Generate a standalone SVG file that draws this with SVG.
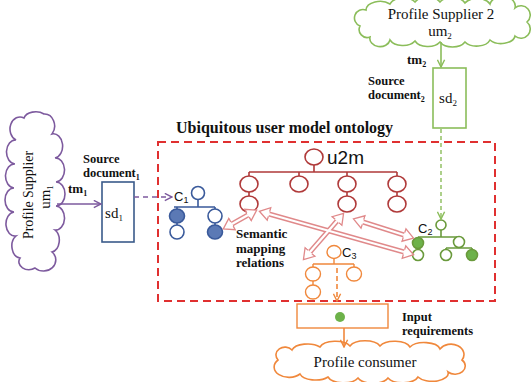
<svg xmlns="http://www.w3.org/2000/svg" width="531" height="382" viewBox="0 0 531 382">
<defs>
<style>
.serif{font-family:"Liberation Serif","Times New Roman",serif;fill:#111}
.b{font-weight:bold}
.sans{font-family:"Liberation Sans",Arial,sans-serif;fill:#111}
.red{fill:#fff;stroke:#b03a3a;stroke-width:1.6}
.redl{stroke:#b03a3a;stroke-width:1.6;fill:none}
.blue{fill:#fff;stroke:#3a5a9b;stroke-width:1.6}
.bluef{fill:#5b79b5;stroke:#3a5a9b;stroke-width:1.6}
.bluel{stroke:#3a5a9b;stroke-width:1.6;fill:none}
.grn{fill:#fff;stroke:#6a9a3c;stroke-width:1.6}
.grnf{fill:#6db24a;stroke:#6a9a3c;stroke-width:1.6}
.grnl{stroke:#6a9a3c;stroke-width:1.6;fill:none}
.org{fill:#fff;stroke:#f0883c;stroke-width:1.4}
.orgl{stroke:#f0883c;stroke-width:1.4;fill:none}
.pk{stroke:#e0898a;stroke-width:5;fill:none}
.pkw{stroke:#fff;stroke-width:2.2;fill:none}
</style>
<marker id="hp" viewBox="0 0 10 10" refX="9" refY="5" markerWidth="9" markerHeight="9" markerUnits="userSpaceOnUse" orient="auto"><path d="M1,1 L9,5 L1,9" fill="none" stroke="#7d5a9e" stroke-width="1.6"/></marker>
<marker id="hg" viewBox="0 0 10 10" refX="9" refY="5" markerWidth="9" markerHeight="9" markerUnits="userSpaceOnUse" orient="auto"><path d="M1,1 L9,5 L1,9" fill="none" stroke="#8bbd5a" stroke-width="1.6"/></marker>
<marker id="ho" viewBox="0 0 10 10" refX="9" refY="5" markerWidth="9" markerHeight="9" markerUnits="userSpaceOnUse" orient="auto"><path d="M1,1 L9,5 L1,9" fill="none" stroke="#f0883c" stroke-width="1.6"/></marker>
<marker id="hk" viewBox="-1 -8 13 16" refX="0" refY="0" markerWidth="13" markerHeight="16" markerUnits="userSpaceOnUse" orient="auto-start-reverse"><path d="M0,-2.5 L0,-6.5 L10,0 L0,6.5 L0,2.5" fill="#fff" stroke="#e0898a" stroke-width="1.3"/></marker>
</defs>
<rect width="531" height="382" fill="#fff"/>

<g id="supplier1">
<path d="M35,268 A10 8 0 0 1 20,258 A9 12 0 0 1 16,236 A9 12 0 0 1 14,212 A9 12 0 0 1 14,188 A9 12 0 0 1 15,164 A9 12 0 0 1 16,140 A10 12 0 0 1 24,118 A12 8 0 0 1 44,114 A10 12 0 0 1 52,134 A9 12 0 0 1 55,158 A9 12 0 0 1 56,182 A9 12 0 0 1 56,206 A9 12 0 0 1 55,230 A9 12 0 0 1 52,252 A10 9 0 0 1 35,268 Z" fill="#fff" stroke="#7d5a9e" stroke-width="1.6"/>
<text class="serif" font-size="15" text-anchor="middle" transform="translate(33,195) rotate(-90)" textLength="88" lengthAdjust="spacingAndGlyphs">Profile Supplier</text>
<text class="serif" font-size="15" text-anchor="middle" transform="translate(50,197) rotate(-90)">um<tspan font-size="9" dy="3">1</tspan></text>
</g>

<g id="sd1">
<rect x="102" y="182" width="32" height="60" fill="#fff" stroke="#3a5a8a" stroke-width="1.6"/>
<text class="serif" font-size="15" x="114" y="218" text-anchor="middle">sd<tspan font-size="9" dy="3">1</tspan></text>
<text class="serif b" font-size="12.5" x="83" y="163">Source</text>
<text class="serif b" font-size="12.5" x="83" y="177">document<tspan font-size="8" dy="3">1</tspan></text>
</g>

<g id="supplier2">
<path d="M360,26 A8 8 0 0 1 366,10 A14 9 0 0 1 390,4 A14 9 0 0 1 415,2 A14 9 0 0 1 440,2 A14 9 0 0 1 465,3 A14 9 0 0 1 490,4 A12 9 0 0 1 515,8 A9 9 0 0 1 527,22 A9 9 0 0 1 515,36 A14 9 0 0 1 490,40 A14 9 0 0 1 465,42 A14 9 0 0 1 440,42 A14 9 0 0 1 415,41 A14 9 0 0 1 390,40 A10 8 0 0 1 370,37 A8 8 0 0 1 360,26 Z" fill="#fff" stroke="#8bbd5a" stroke-width="1.6"/>
<text class="serif" font-size="15" x="441" y="19" text-anchor="middle">Profile Supplier 2</text>
<text class="serif" font-size="15" x="440" y="36" text-anchor="middle">um<tspan font-size="9" dy="3">2</tspan></text>
</g>

<g id="sd2">
<rect x="433" y="68" width="33" height="60" fill="#fff" stroke="#8bbd5a" stroke-width="1.6"/>
<text class="serif" font-size="15" x="448" y="103" text-anchor="middle">sd<tspan font-size="9" dy="3">2</tspan></text>
<text class="serif b" font-size="12.5" x="368" y="85">Source</text>
<text class="serif b" font-size="12.5" x="368" y="99">document<tspan font-size="8" dy="3">2</tspan></text>
</g>

<g id="ontology">
<rect x="158" y="142" width="337" height="159" fill="none" stroke="#e03030" stroke-width="2" stroke-dasharray="8 5"/>
<text class="serif b" font-size="16" x="176" y="133">Ubiquitous user model ontology</text>
</g>

<g id="u2m">
<path class="redl" d="M314,165 V172 M249,172 H397 M249,172 V176 M299,172 V176 M347,172 V176 M397,172 V176 M249,192 V196 M347,192 V196 M397,192 V196"/>
<ellipse class="red" cx="314" cy="157" rx="9" ry="8"/>
<ellipse class="red" cx="249" cy="184" rx="9" ry="8"/>
<ellipse class="red" cx="299" cy="184" rx="9" ry="8"/>
<ellipse class="red" cx="347" cy="184" rx="9" ry="8"/>
<ellipse class="red" cx="397" cy="184" rx="9" ry="8"/>
<ellipse class="red" cx="249" cy="204" rx="9" ry="8"/>
<ellipse class="red" cx="347" cy="204" rx="9" ry="8"/>
<ellipse class="red" cx="397" cy="204" rx="9" ry="8"/>
<text class="sans" font-size="19" x="327" y="164">u2m</text>
</g>

<g id="c1">
<path class="bluel" d="M198,199.5 V207 M174,207 H215 M177,207 V209 M215,207 V209 M177,223 V225 M215,223 V225"/>
<ellipse class="blue" cx="198" cy="193" rx="6.5" ry="6.5"/>
<ellipse class="bluef" cx="177" cy="216" rx="7.5" ry="7"/>
<ellipse class="blue" cx="177" cy="232" rx="7" ry="7"/>
<ellipse class="blue" cx="215" cy="216" rx="7" ry="7"/>
<ellipse class="bluef" cx="215" cy="232" rx="7.5" ry="7"/>
<text class="sans" font-size="13" x="174" y="201">C<tspan font-size="9" dy="2">1</tspan></text>
</g>

<g id="c2">
<path class="grnl" d="M441,230 V237 M418,237 H459 M446,248 H472 M446,248 V250 M472,248 V250 M418,248 V250"/>
<circle class="grn" cx="441" cy="225" r="5"/>
<circle class="grnf" cx="418" cy="243" r="5.5"/>
<circle class="grn" cx="418" cy="255" r="5.5"/>
<circle class="grn" cx="459" cy="242" r="5.5"/>
<circle class="grn" cx="446" cy="255" r="5.5"/>
<circle class="grnf" cx="472" cy="255" r="5.5"/>
<text class="sans" font-size="13" x="418" y="233">C<tspan font-size="9" dy="2">2</tspan></text>
</g>

<g id="c3">
<path class="orgl" d="M334,258.5 V264 M313,264 H354 M313,264 V267 M354,264 V267 M313,281 V285"/>
<ellipse class="org" cx="334" cy="252" rx="7" ry="6.5"/>
<ellipse class="org" cx="313" cy="274" rx="7.5" ry="7"/>
<ellipse class="org" cx="313" cy="292" rx="7.5" ry="7"/>
<ellipse class="org" cx="354" cy="274" rx="7.5" ry="7"/>
<text class="sans" font-size="13" x="342" y="257">C<tspan font-size="9" dy="2">3</tspan></text>
</g>

<g id="input">
<rect x="297" y="304" width="91" height="24" fill="#fff" stroke="#f0883c" stroke-width="1.4"/>
<circle cx="340" cy="317" r="5" fill="#6db24a"/>
<text class="serif b" font-size="12.5" x="402" y="321">Input</text>
<text class="serif b" font-size="12.5" x="402" y="335">requirements</text>
</g>

<g id="consumer">
<path d="M278,360 A8 7 0 0 1 292,350 A16 8 0 0 1 320,347 A16 8 0 0 1 350,346 A16 8 0 0 1 380,346 A16 8 0 0 1 410,347 A16 8 0 0 1 440,349 A10 8 0 0 1 462,360 A10 8 0 0 1 448,372 A16 8 0 0 1 418,377 A16 8 0 0 1 388,378 A16 8 0 0 1 358,378 A16 8 0 0 1 328,377 A16 8 0 0 1 300,374 A10 7 0 0 1 278,360 Z" fill="#fff" stroke="#f0883c" stroke-width="1.6"/>
<text class="serif" font-size="15" x="365" y="367" text-anchor="middle">Profile consumer</text>
</g>

<g id="mapping-label">
<text class="serif b" font-size="13" x="236" y="238">Semantic</text>
<text class="serif b" font-size="13" x="236" y="253">mapping</text>
<text class="serif b" font-size="13" x="236" y="267">relations</text>
</g>

<g id="connectors">
<line x1="57" y1="204" x2="101" y2="204" stroke="#7d5a9e" stroke-width="1.6" marker-end="url(#hp)"/>
<text class="serif b" font-size="13" x="68" y="193">tm<tspan font-size="8" dy="3">1</tspan></text>
<line x1="134" y1="197" x2="172" y2="197" stroke="#7d5a9e" stroke-width="1.6" stroke-dasharray="5 4" marker-end="url(#hp)"/>
<line x1="441" y1="42" x2="441" y2="67" stroke="#8bbd5a" stroke-width="1.6" marker-end="url(#hg)"/>
<text class="serif b" font-size="13" x="407" y="64">tm<tspan font-size="8" dy="3">2</tspan></text>
<line x1="441" y1="129" x2="441" y2="219" stroke="#8bbd5a" stroke-width="1.4" stroke-dasharray="4 3" marker-end="url(#hg)"/>
<line x1="337" y1="268" x2="337" y2="301" stroke="#f0883c" stroke-width="1.6" stroke-dasharray="5 3" marker-end="url(#ho)"/>
<line x1="344" y1="328" x2="344" y2="347" stroke="#f0883c" stroke-width="1.6" marker-end="url(#ho)"/>
<g id="semantic-mappings">
<path class="pk" d="M232,224 L248,215" marker-start="url(#hk)" marker-end="url(#hk)"/>
<path class="pk" d="M269,214 L404,252" marker-start="url(#hk)" marker-end="url(#hk)"/>
<path class="pk" d="M337,221 L310,252" marker-start="url(#hk)" marker-end="url(#hk)"/>
<path class="pk" d="M363,222 L404,235" marker-start="url(#hk)" marker-end="url(#hk)"/>
<path class="pkw" d="M232,224 L248,215 M269,214 L404,252 M337,221 L310,252 M363,222 L404,235"/>
</g>
</g>
</svg>
